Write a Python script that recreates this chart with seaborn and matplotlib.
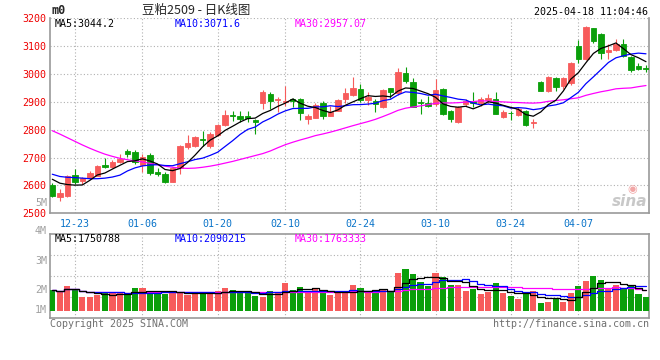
import matplotlib
matplotlib.use('Agg')
import matplotlib.pyplot as plt
import seaborn as sns
import numpy as np
import pandas as pd


# trading days of the m2509 contract shown on the chart
holidays = ['2025-01-01', '2025-01-28', '2025-01-29', '2025-01-30',
            '2025-01-31', '2025-02-03', '2025-02-04', '2025-04-04']
dates = pd.bdate_range('2024-12-18', '2025-04-18', freq='C', holidays=holidays)
tick_dates = ['12-23', '01-06', '01-20', '02-10', '02-24', '03-10', '03-24', '04-07']

opens = [2601, 2560, 2562, 2637, 2614, 2627, 2635, 2672, 2667, 2683,
         2722, 2718, 2672, 2710, 2648, 2642, 2613, 2661, 2738, 2741,
         2768, 2740, 2779, 2815, 2852, 2848, 2850, 2835, 2896, 2929,
         2905, 2899, 2909, 2911, 2838, 2842, 2895, 2850, 2868, 2909,
         2923, 2947, 2907, 2903, 2882, 2948, 2930, 3004, 2972, 2899,
         2895, 2891, 2945, 2868, 2829, 2891, 2903, 2897, 2907, 2909,
         2845, 2861, 2854, 2865, 2822, 2971, 2939, 2985, 2958, 2967,
         3100, 3052, 3163, 3143, 3077, 3086, 3107, 3062, 3029, 3019]
highs = [2607, 2587, 2637, 2658, 2631, 2650, 2674, 2700, 2690, 2712,
         2729, 2727, 2714, 2715, 2663, 2648, 2667, 2744, 2779, 2778,
         2795, 2790, 2820, 2870, 2868, 2865, 2868, 2838, 2941, 2936,
         2917, 2956, 2915, 2914, 2856, 2897, 2901, 2883, 2909, 2950,
         2988, 2962, 2933, 2909, 2945, 2950, 3019, 3025, 2986, 2909,
         2921, 2983, 2948, 2872, 2885, 2909, 2933, 2918, 2927, 2936,
         2871, 2866, 2881, 2871, 2838, 2975, 2993, 2988, 2988, 3044,
         3121, 3173, 3165, 3145, 3107, 3124, 3124, 3064, 3038, 3032]
lows = [2557, 2545, 2560, 2604, 2606, 2623, 2632, 2664, 2661, 2679,
        2703, 2675, 2648, 2636, 2632, 2607, 2612, 2640, 2732, 2738,
        2742, 2735, 2777, 2813, 2830, 2826, 2829, 2785, 2874, 2874,
        2864, 2885, 2880, 2836, 2821, 2840, 2838, 2849, 2866, 2897,
        2920, 2900, 2889, 2864, 2876, 2915, 2923, 2966, 2880, 2856,
        2882, 2883, 2853, 2826, 2823, 2885, 2880, 2885, 2897, 2855,
        2842, 2833, 2850, 2814, 2806, 2937, 2935, 2937, 2945, 2961,
        3040, 3048, 3110, 3052, 3052, 3080, 3062, 3008, 3012, 3005]
closes = [2562, 2574, 2632, 2613, 2627, 2645, 2670, 2667, 2684, 2694,
          2712, 2684, 2702, 2645, 2641, 2613, 2663, 2741, 2752, 2774,
          2761, 2783, 2817, 2852, 2847, 2838, 2843, 2826, 2935, 2901,
          2911, 2901, 2901, 2858, 2848, 2888, 2848, 2864, 2905, 2932,
          2948, 2905, 2918, 2891, 2941, 2933, 3007, 2974, 2882, 2895,
          2886, 2941, 2856, 2838, 2880, 2903, 2895, 2909, 2912, 2856,
          2863, 2858, 2874, 2818, 2827, 2939, 2990, 2951, 2985, 3040,
          3054, 3167, 3119, 3074, 3086, 3107, 3064, 3012, 3018, 3016]
# volume in millions of lots
volumes = [1.74, 1.66, 2.08, 1.83, 1.18, 1.18, 1.32, 1.58, 1.46, 1.49,
           1.32, 1.91, 1.91, 1.66, 1.52, 1.38, 1.69, 1.58, 1.29, 1.46,
           1.52, 1.46, 1.66, 1.91, 1.74, 1.55, 1.52, 1.24, 1.15, 1.66,
           1.58, 2.33, 1.74, 2.00, 1.46, 1.91, 1.58, 1.32, 1.46, 1.46,
           2.17, 1.88, 1.46, 1.74, 1.80, 1.60, 3.21, 3.52, 3.09, 2.45,
           2.08, 3.21, 2.81, 2.17, 2.17, 1.66, 1.80, 1.41, 1.60, 2.36,
           1.46, 1.24, 0.96, 1.38, 1.69, 0.62, 0.73, 0.96, 0.76, 1.46,
           2.08, 2.50, 2.93, 2.59, 1.88, 2.17, 1.88, 2.17, 1.41, 1.18]

# moving averages before enough closes are on screen
ma5_head = [2622, 2608, 2603, 2601]
ma10_head = [2640, 2632, 2629, 2628, 2626, 2624, 2624, 2626, 2630]
ma30_head = [2796, 2784, 2771, 2758, 2745, 2733, 2722, 2712, 2704, 2697,
             2692, 2688, 2684, 2679, 2674, 2669, 2665, 2662, 2661, 2662,
             2665, 2669, 2674, 2680, 2686, 2693, 2700, 2707, 2714]

sns.set_style('white')
plt.rcParams['font.family'] = ['DejaVu Sans Mono', 'Noto Sans CJK SC']

RED = '#f75b5b'
GREEN = '#0a9f0a'
GRID = '#b0b0b0'
AXIS = '#9a9a9a'
W, H = 660, 360


def box(x0, y0, x1, y1):
    return [x0 / W, 1 - y1 / H, (x1 - x0) / W, (y1 - y0) / H]


def put(x, y, s, **kw):
    fig.text(x / W, 1 - y / H, s, **kw)


fig = plt.figure(figsize=(6.6, 3.6), dpi=100)
ax = fig.add_axes(box(50, 18, 649, 213.3))
axv = fig.add_axes(box(50, 234.3, 649, 318.3), sharex=ax)

idx = np.arange(len(closes))
o, h, l, c = (np.array(a, dtype=float) for a in (opens, highs, lows, closes))
colors = np.where(c >= o, RED, GREEN)

# candles
ax.vlines(idx, l, h, colors=colors, lw=0.8, zorder=3)
ax.bar(idx, np.abs(c - o), bottom=np.minimum(o, c), width=0.72,
       color=colors, edgecolor=colors, linewidth=0.6, zorder=3)

s = pd.Series(closes, dtype=float)
ma5 = s.rolling(5).mean()
ma5.iloc[:4] = ma5_head
ma10 = s.rolling(10).mean()
ma10.iloc[:9] = ma10_head
ma30 = s.rolling(30).mean()
ma30.iloc[:29] = ma30_head
for ma, col in ((ma30, '#ff00ff'), (ma10, '#0000ff'), (ma5, 'black')):
    sns.lineplot(x=idx, y=ma.values, ax=ax, color=col, lw=0.9, zorder=4)

ax.set_xlim(-0.306, 79.4)
ax.set_ylim(2500, 3200)
ax.set_yticks(range(2500, 3201, 100))
ax.set_yticklabels([str(v) for v in range(2500, 3201, 100)], color='#ee0000', fontsize=7.2)
tick_pos = [i for i, d in enumerate(dates) if d.strftime('%m-%d') in tick_dates]
ax.set_xticks(tick_pos)
ax.set_xticklabels([dates[i].strftime('%m-%d') for i in tick_pos], color='#0a74c9', fontsize=7.2)
ax.tick_params(length=0, pad=3)
ax.tick_params(axis='x', pad=4)
ax.grid(True, color=GRID, linestyle=(0, (1, 2)), lw=0.8)
ax.set_xlabel('')
ax.set_ylabel('')
ax.spines['top'].set_visible(False)
for side in ('left', 'bottom', 'right'):
    ax.spines[side].set_color(AXIS)
    ax.spines[side].set_linewidth(1.2)

# volume
axv.bar(idx, volumes, width=0.82, color=colors, linewidth=0, zorder=3)
v = pd.Series(volumes)
for win, col in ((30, '#ff00ff'), (10, '#0000ff'), (5, 'black')):
    sns.lineplot(x=idx, y=v.rolling(win, min_periods=1).mean().values, ax=axv,
                 color=col, lw=0.9, drawstyle='steps-mid', zorder=4)
vlo, vhi = -0.64, 6.45
axv.set_ylim(vlo, vhi)
axv.set_yticks([vlo + f * (vhi - vlo) for f in (0.25, 0.5, 0.75)])
axv.tick_params(length=0, labelbottom=False, labelleft=False)
axv.grid(True, color=GRID, linestyle=(0, (1, 2)), lw=0.8)
axv.set_xlabel('')
axv.set_ylabel('')
for side in axv.spines:
    axv.spines[side].set_color(AXIS)
    axv.spines[side].set_linewidth(1.2)

mono = dict(fontsize=7.2, va='center')
put(51, 10, 'm0', fontsize=8.5, weight='bold', va='center')
put(142, 10, '豆粕2509 - 日K线图', fontsize=9, va='center',
    family=['Noto Sans CJK SC', 'DejaVu Sans'])
put(648, 12, '2025-04-18 11:04:46', ha='right', color='black', **mono)
put(55, 24, 'MA5:3044.2', color='black', **mono)
put(175, 24, 'MA10:3071.6', color='#0000ff', **mono)
put(295, 24, 'MA30:2957.07', color='#ff00ff', **mono)
put(55, 238.5, 'MA5:1750788', color='black', **mono)
put(175, 238.5, 'MA10:2090215', color='#0000ff', **mono)
put(295, 238.5, 'MA30:1763333', color='#ff00ff', **mono)
for lab, y in (('5M', 203), ('4M', 230.7), ('3M', 260.7), ('2M', 290), ('1M', 310)):
    put(47, y, lab, ha='right', color='#a0a0a0', **mono)
put(50, 324, 'Copyright 2025 SINA.COM', ha='left', color='#707070', **mono)
put(649, 324, 'http://finance.sina.com.cn', ha='right', color='#707070', **mono)
# sina watermark
put(632, 189, '◉', ha='center', color='#f2a6a6', fontsize=8, va='center',
    family='DejaVu Sans')
put(647, 202, 'sina', ha='right', color='#c8c8c8', fontsize=11, style='italic',
    weight='bold', va='center', family='DejaVu Sans')

fig.savefig('out.png', dpi=100)
